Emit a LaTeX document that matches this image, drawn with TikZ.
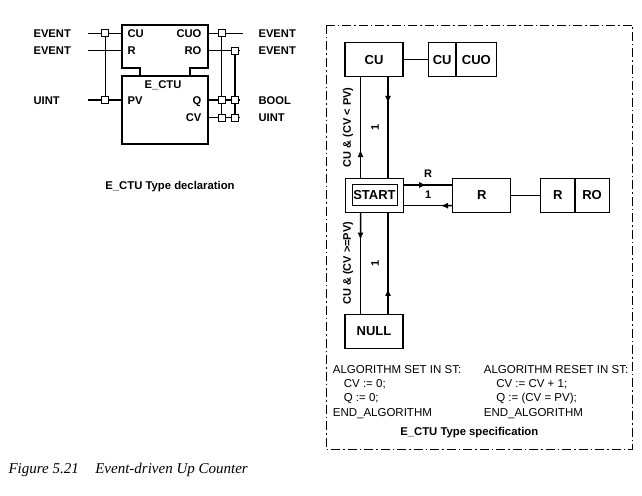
\documentclass[tikz,border=0pt]{standalone}
\usepackage{fontspec}
\setmainfont{Liberation Sans}
\newfontfamily\figfont{Liberation Serif}
\usepackage{tikz}
\usetikzlibrary{positioning,arrows.meta,calc}

\begin{document}
\begin{tikzpicture}[
    x=1pt, y=-1pt,
    line width=1.1pt,
    pin/.style={font=\fontsize{11.2}{13}\selectfont\bfseries, inner sep=0pt,
        text height=8.1pt, text depth=0pt},
    assoc/.style={draw, fill=white, line width=0.9pt, minimum size=7pt, inner sep=0pt},
    fbline/.style={line width=1.3pt},
    state/.style={draw, line width=1.4pt, minimum width=58pt, minimum height=34pt,
        inner sep=0pt, font=\fontsize{13}{15}\selectfont\bfseries},
    act/.style={draw, line width=1.4pt, minimum height=34pt, inner sep=0pt, outer sep=0pt,
        font=\fontsize{13}{15}\selectfont\bfseries},
    trans/.style={line width=1.5pt},
    tip/.style={-{Latex[length=7.5pt,width=6pt]}, line width=1.5pt},
    tlabel/.style={font=\fontsize{11}{13}\selectfont\bfseries, inner sep=0pt},
    alg/.style={font=\fontsize{11.5}{14.1}\selectfont, inner sep=0pt, align=left, anchor=north west},
    caption/.style={font=\fontsize{11.3}{13}\selectfont\bfseries, inner sep=0pt},
    frame/.style={line width=0.8pt, dash pattern=on 9pt off 3pt on 1.5pt off 3pt}
]
\useasboundingbox (0,0) rectangle (642,495);

% E_CTU type declaration
\draw[fbline] (140,76) -- (140,68) -- (122,68) -- (122,25) -- (208,25) -- (208,68) -- (190,68) -- (190,76);
\draw[fbline] (122,76) rectangle (208,144);
\coordinate (fbl) at (122,0);
\coordinate (fbr) at (208,0);

\node[pin, anchor=west] (cu) at (127,33.3) {CU};
\node[pin, anchor=west] (r) at (127,50.7) {R};
\node[pin, anchor=west] (pv) at (127,100) {PV};
\node[pin, anchor=east] (cuo) at (202,33.3) {CUO};
\node[pin, anchor=east] (ro) at (202,50.7) {RO};
\node[pin, anchor=east] (q) at (202,100) {Q};
\node[pin, anchor=east] (cv) at (202,117.7) {CV};
\node[pin] (fbname) at (163,84) {E\_CTU};

\node[pin, anchor=west] (tcu) at (33,33.3) {EVENT};
\node[pin, anchor=west] (tr) at (33,50.7) {EVENT};
\node[pin, anchor=west] (tpv) at (33,100) {UINT};
\node[pin, anchor=west] (tcuo) at (258,33.3) {EVENT};
\node[pin, anchor=west] (tro) at (258,50.7) {EVENT};
\node[pin, anchor=west] (tq) at (258,100) {BOOL};
\node[pin, anchor=west] (tcv) at (258,117.7) {UINT};

\coordinate (icu) at (88,33.3);
\coordinate (ir) at (88,50.7);
\coordinate (ipv) at (88,100);
\coordinate (ocuo) at (243,33.3);
\coordinate (oro) at (239,50.7);
\coordinate (oq) at (239,100);
\coordinate (ocv) at (239,117.7);

\node[assoc] (wcu) at (105.3,33.3) {};
\node[assoc] (wpv) at (105.3,100) {};
\node[assoc] (wcuo) at (221.7,33.3) {};
\node[assoc] (wq1) at (221.7,100) {};
\node[assoc] (wcv1) at (221.7,117.7) {};
\node[assoc] (wro) at (235,50.7) {};
\node[assoc] (wq2) at (235,100) {};
\node[assoc] (wcv2) at (235,117.7) {};

\draw (icu) -- (wcu) -- (cu.west -| fbl);
\draw (ir) -- (r.west -| fbl);
\draw (ipv) -- (wpv) -- (pv.west -| fbl);
\draw (wcu) -- (wpv);
\draw (cuo.east -| fbr) -- (wcuo) -- (ocuo);
\draw (ro.east -| fbr) -- (wro) -- (oro);
\draw (q.east -| fbr) -- (wq1) -- (wq2) -- (oq);
\draw (cv.east -| fbr) -- (wcv1) -- (wcv2) -- (ocv);
\draw (wcuo) -- (wq1) -- (wcv1);
\draw (wro) -- (wq2) -- (wcv2);

\node[caption] (decl) at (170,186.7) {E\_CTU Type declaration};

% E_CTU type specification
\draw[frame] (326.7,25) rectangle (632.3,449.3);

\node[state] (scu) at (374,59.7) {CU};
\node[state] (start) at (374.5,195.3) {};
\node[draw, line width=1pt, minimum width=45pt, minimum height=20.7pt, inner sep=0pt,
    font=\fontsize{13}{15}\selectfont\bfseries] (startin) at (start) {START};
\node[state] (null) at (374,331.3) {NULL};
\node[state] (sr) at (481.7,195.3) {R};

\node[act, minimum width=27.7pt] (acu) at (442.2,59.7) {CU};
\node[act, minimum width=40.7pt, right=0pt of acu] (acuo) {CUO};
\node[act, minimum width=34.3pt] (ar) at (557.8,195.3) {R};
\node[act, minimum width=34.3pt, right=0pt of ar] (aro) {RO};

\draw[line width=1.4pt] (scu) -- (acu);
\draw[line width=1.4pt] (sr) -- (ar);

\coordinate (lx) at (360.5,0);
\coordinate (rx) at (388,0);
\coordinate (ty) at (0,185);
\coordinate (by) at (0,205.7);

% transitions
\draw[trans] (start.north -| lx) --
    node[tlabel, xshift=-12.4pt, rotate=90] {CU \& (CV < PV)} (scu.south -| lx);
\draw[tip] (start.north -| lx) -- ($(start.north -| lx)!0.28!(scu.south -| lx)$);
\draw[trans] (scu.south -| rx) --
    node[tlabel, xshift=-13pt, rotate=90] {1} (start.north -| rx);
\draw[tip] (scu.south -| rx) -- ($(scu.south -| rx)!0.26!(start.north -| rx)$);
\draw[trans] (start.south -| lx) --
    node[tlabel, xshift=-12.4pt, rotate=90] {CU \& (CV >=PV)} (null.north -| lx);
\draw[tip] (start.south -| lx) -- ($(start.south -| lx)!0.27!(null.north -| lx)$);
\draw[trans] (null.north -| rx) --
    node[tlabel, xshift=-13pt, rotate=90] {1} (start.south -| rx);
\draw[tip] (null.north -| rx) -- ($(null.north -| rx)!0.25!(start.south -| rx)$);
\draw[trans] (start.east |- ty) --
    node[tlabel, yshift=11pt] {R} node[tlabel, yshift=-10pt] {1} (sr.west |- ty);
\draw[tip] (start.east |- ty) -- ($(start.east |- ty)!0.47!(sr.west |- ty)$);
\draw[trans] (sr.west |- by) -- (start.east |- by);
\draw[tip] (sr.west |- by) -- ($(sr.west |- by)!0.24!(start.east |- by)$);

\node[alg] (setalg) at (332.3,365.2) {ALGORITHM SET IN ST:\\\hspace*{11pt}CV := 0;\\\hspace*{11pt}Q := 0;\\END\_ALGORITHM};
\node[alg] (resetalg) at (483.3,365.2) {ALGORITHM RESET IN ST:\\\hspace*{12.4pt}CV := CV + 1;\\\hspace*{12.4pt}Q := (CV = PV);\\END\_ALGORITHM};

\node[caption] (spec) at (469.3,432.7) {E\_CTU Type specification};

\node[anchor=west, inner sep=0pt, font=\figfont\itshape\fontsize{15}{17}\selectfont] (fig) at (8,470)
    {Figure 5.21\hspace{1.1em}Event-driven Up Counter};
\end{tikzpicture}
\end{document}
